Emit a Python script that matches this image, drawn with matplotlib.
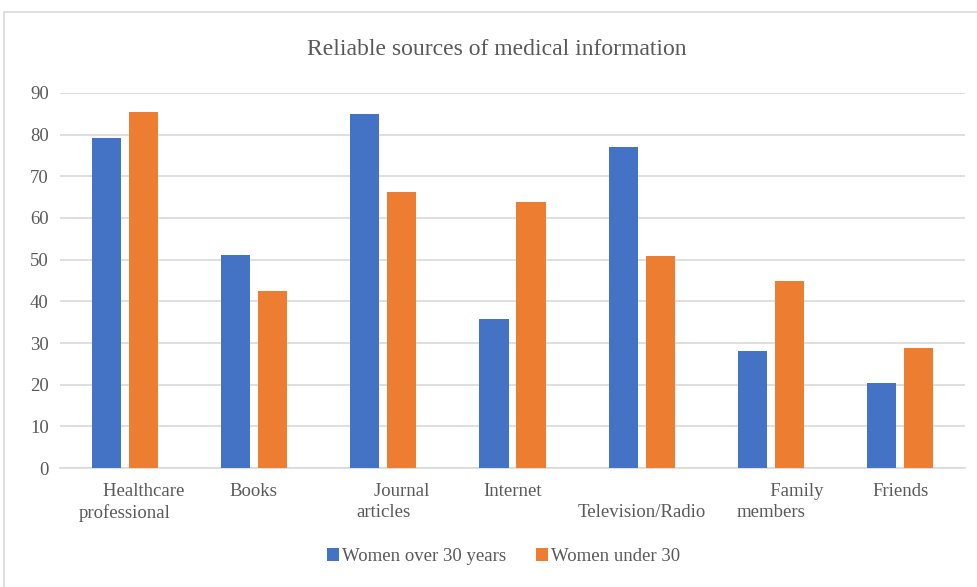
import matplotlib.pyplot as plt
import numpy as np
from matplotlib.patches import Rectangle

plt.rcParams['font.family'] = ['Liberation Serif', 'DejaVu Serif']

categories = ['        Healthcare\nprofessional', 'Books', '        Journal\narticles',
              'Internet', '\nTelevision/Radio', '           Family\nmembers', 'Friends']
over30 = [79.3, 51.1, 85.0, 35.8, 77.0, 28.2, 20.4]
under30 = [85.4, 42.4, 66.3, 63.9, 50.9, 44.9, 28.9]

blue = '#4472C4'
orange = '#ED7D31'
grey = '#595959'

fig = plt.figure(figsize=(9.78, 5.87), dpi=100)
ax = fig.add_axes([0.0613, 0.2027, 0.9254, 0.6389])

x = np.arange(len(categories))
w = 0.225
ax.bar(x - 0.143, over30, w, color=blue, label='Women over 30 years', zorder=3)
ax.bar(x + 0.143, under30, w, color=orange, label='Women under 30', zorder=3)

ax.set_xlim(-0.5, len(categories) - 0.5)
ax.set_ylim(0, 90)
ax.set_yticks(range(0, 91, 10))
ax.yaxis.grid(True, color='#d9d9d9', linewidth=1.2, zorder=0)
ax.set_xticks(x)
ax.set_xticklabels(categories, fontsize=13.5, color=grey, linespacing=1.25,
                   va='top', ha='center', multialignment='center')
ax.tick_params(axis='both', length=0, labelcolor=grey)
ax.tick_params(axis='y', labelsize=13.5, pad=8)
ax.tick_params(axis='x', pad=11)
for s in ['top', 'right', 'left']:
    ax.spines[s].set_visible(False)
ax.spines['bottom'].set_color('#d9d9d9')
ax.spines['bottom'].set_linewidth(1.2)

fig.text(0.508, 0.916, 'Reliable sources of medical information', ha='center',
         va='center', fontsize=17, color=grey)

fig.legend(loc='center', bbox_to_anchor=(0.515, 0.052), ncol=2, frameon=False,
           fontsize=13.5, handlelength=0.65, handleheight=0.65, handletextpad=0.15,
           columnspacing=1.6, labelcolor=grey)

fig.patches.append(Rectangle((0.004, -0.01), 1.0, 0.99, transform=fig.transFigure,
                             fill=False, edgecolor='#d9d9d9', linewidth=1.2))

fig.savefig('out.png', dpi=100)
